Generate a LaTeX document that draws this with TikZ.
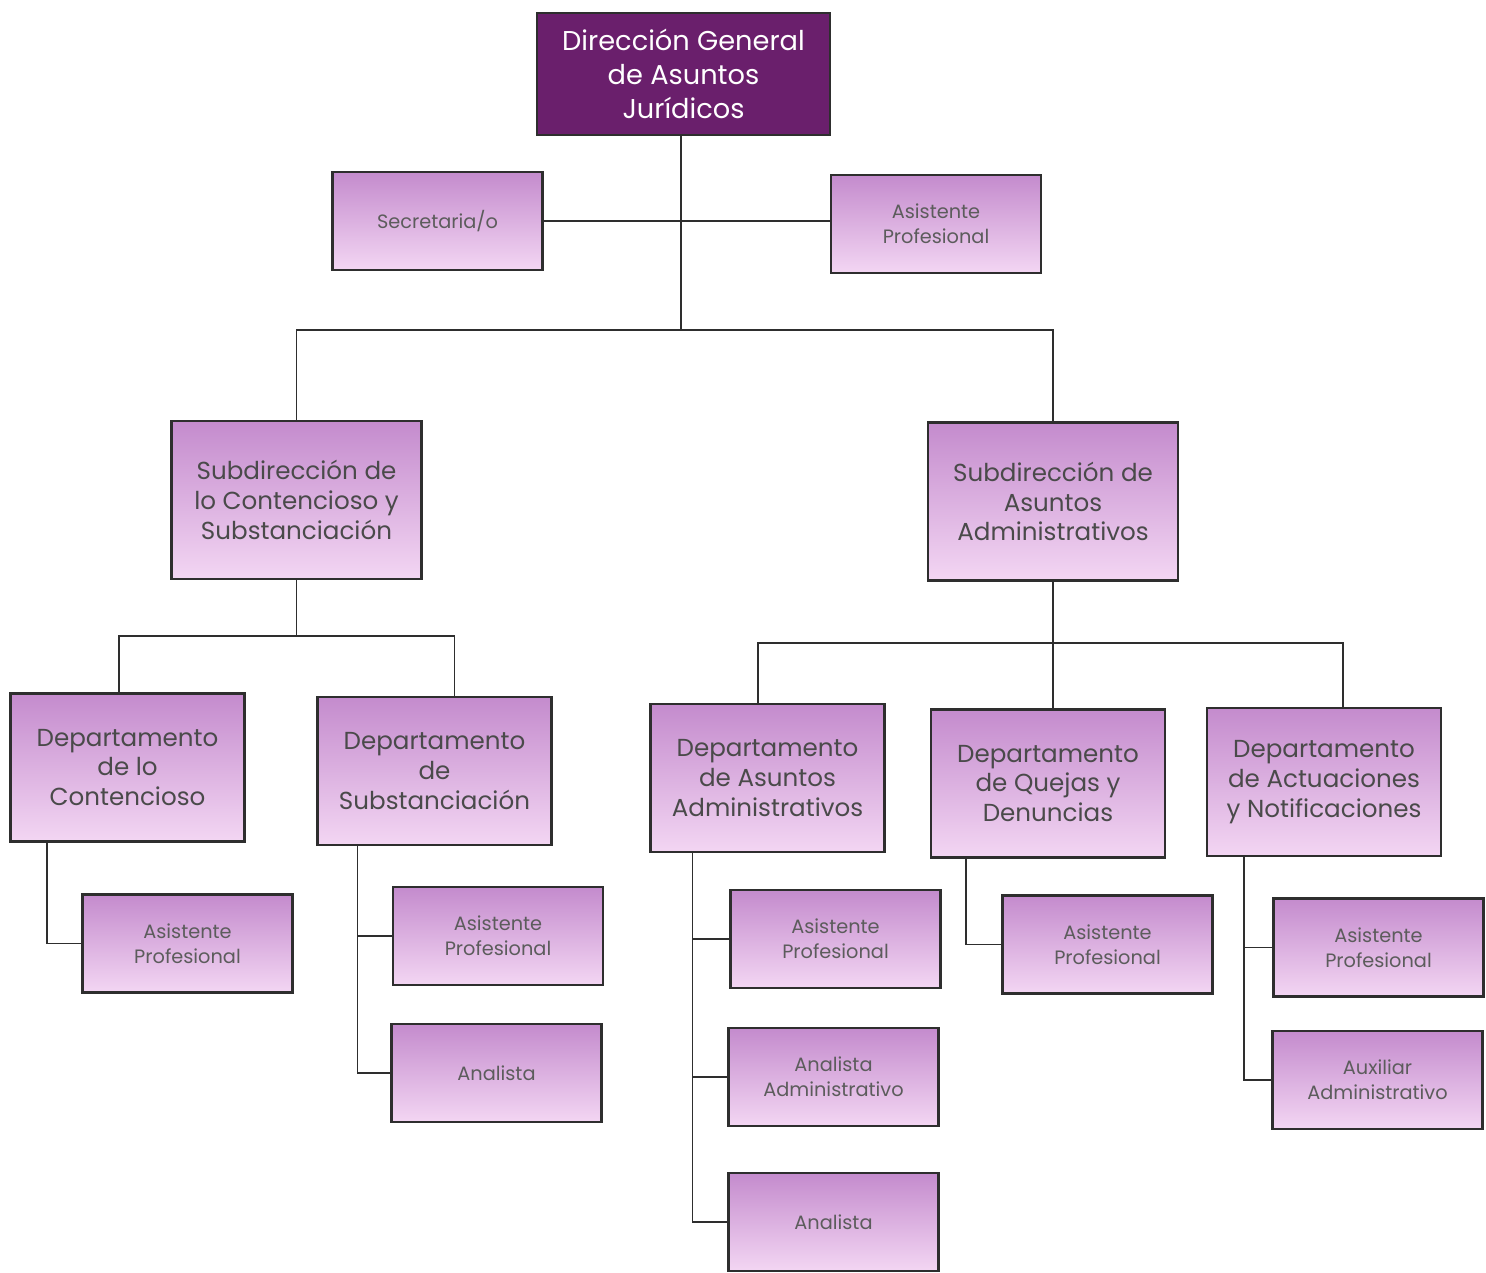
\documentclass[tikz,border=0pt]{standalone}
\usepackage{fontspec}
\setmainfont{Poppins}
\definecolor{dgfill}{HTML}{6A1F6C}
\definecolor{gtop}{HTML}{C48BCD}
\definecolor{gbot}{HTML}{F3D6F3}
\definecolor{edge}{HTML}{2E2E2E}
\definecolor{txt}{HTML}{4A4A4A}
\definecolor{txtl}{HTML}{5C5C5C}
\tikzset{
  box/.style={draw=edge, line width=1.3pt, top color=gtop, bottom color=gbot, align=center, inner sep=2pt},
  dgbox/.style={draw=edge, line width=1.3pt, fill=dgfill, text=white, align=center, minimum width=5.86cm, minimum height=2.44cm, font=\fontsize{15.5}{19.5}\selectfont},
  subbox/.style={box, minimum width=5.0cm, minimum height=3.16cm, text=txt, font=\fontsize{14}{17}\selectfont},
  deptbox/.style={box, minimum width=4.68cm, minimum height=2.96cm, text=txt, font=\fontsize{14}{17}\selectfont},
  smallbox/.style={box, minimum width=4.2cm, minimum height=1.96cm, text=txtl, font=\fontsize{11}{14}\selectfont},
  conn/.style={draw=edge, line width=1pt}
}
\begin{document}
\begin{tikzpicture}[x=0.02cm,y=-0.02cm]
\useasboundingbox (0,0) rectangle (1486,1272);
\fill[white] (0,0) rectangle (1486,1272);
% nodes
\node[dgbox] (dg) at (683.5,74) {Dirección General\\de Asuntos\\Jurídicos};
\node[smallbox] (sec) at (437.5,221) {Secretaria/o};
\node[smallbox] (apt) at (936,224) {Asistente\\Profesional};
\node[subbox] (s1) at (296.5,500) {Subdirección de\\lo Contencioso y\\Substanciación};
\node[subbox] (s2) at (1053,501.5) {Subdirección de\\Asuntos\\Administrativos};
\node[deptbox] (d1) at (127.5,767.5) {Departamento\\de lo\\Contencioso};
\node[deptbox] (d2) at (434.5,771) {Departamento\\de\\Substanciación};
\node[deptbox] (d3) at (767.5,778) {Departamento\\de Asuntos\\Administrativos};
\node[deptbox] (d4) at (1048,783.5) {Departamento\\de Quejas y\\Denuncias};
\node[deptbox] (d5) at (1324,782) {Departamento\\de Actuaciones\\y Notificaciones};
\node[smallbox] (ap1) at (187.5,943.5) {Asistente\\Profesional};
\node[smallbox] (ap2) at (498,936) {Asistente\\Profesional};
\node[smallbox] (an2) at (496.5,1073) {Analista};
\node[smallbox] (ap3) at (835.5,939) {Asistente\\Profesional};
\node[smallbox] (aa3) at (833.5,1077) {Analista\\Administrativo};
\node[smallbox] (an3) at (833.5,1222) {Analista};
\node[smallbox] (ap4) at (1107.5,944.5) {Asistente\\Profesional};
\node[smallbox] (ap5) at (1378.5,947.5) {Asistente\\Profesional};
\node[smallbox] (ax5) at (1377.5,1080) {Auxiliar\\Administrativo};
% top connectors
\coordinate (b1) at (681,330);
\draw[conn] (dg.south -| b1) -- (b1);
\draw[conn] (sec.east) -- (apt.west |- sec.east);
\draw[conn] (s1.north) |- (b1) -| (s2.north);
% sub1 branch
\coordinate (b2) at (296.5,636);
\draw[conn] (s1.south) -- (b2);
\draw[conn] ([xshift=-0.17cm]d1.north) |- (b2) -| ([xshift=0.4cm]d2.north);
% sub2 branch
\coordinate (b3) at (1053,643);
\draw[conn] (s2.south) -- (s2.south |- d4.north);
\draw[conn] ([xshift=-0.19cm]d3.north) |- (b3) -| ([xshift=0.38cm]d5.north);
% dept children
\coordinate (t1) at ([xshift=0.76cm]d1.south west);
\draw[conn] (t1) |- (ap1.west);
\coordinate (t2) at ([xshift=0.82cm]d2.south west);
\draw[conn] (t2) |- (an2.west);
\draw[conn] (ap2.west) -- (ap2.west -| t2);
\coordinate (t3) at ([xshift=0.86cm]d3.south west);
\draw[conn] (t3) |- (an3.west);
\draw[conn] (ap3.west) -- (ap3.west -| t3);
\draw[conn] (aa3.west) -- (aa3.west -| t3);
\coordinate (t4) at ([xshift=0.72cm]d4.south west);
\draw[conn] (t4) |- (ap4.west);
\coordinate (t5) at ([xshift=0.76cm]d5.south west);
\draw[conn] (t5) |- (ax5.west);
\draw[conn] (ap5.west) -- (ap5.west -| t5);
\end{tikzpicture}
\end{document}
